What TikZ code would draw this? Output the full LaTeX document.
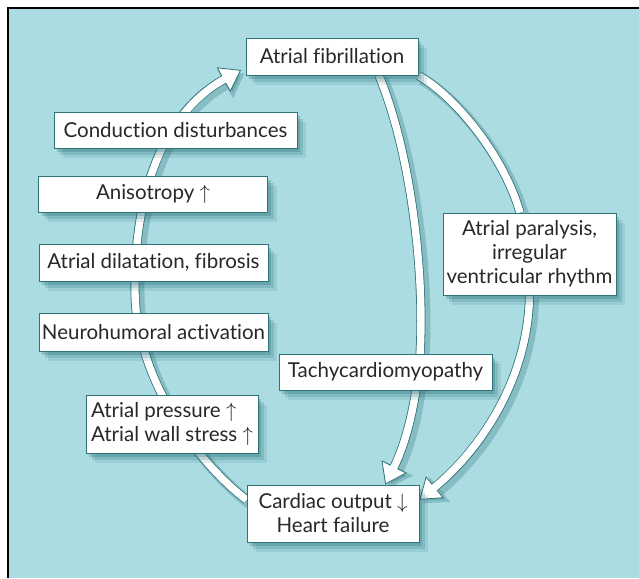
\documentclass[tikz,border=0pt]{standalone}
\usepackage{fontspec}
\setmainfont[Ligatures=NoCommon]{Lato}
\usetikzlibrary{arrows.meta,shadows,calc}
\definecolor{bgteal}{RGB}{170,220,225}
\definecolor{edgeteal}{RGB}{45,115,120}
\definecolor{shadeteal}{RGB}{30,100,110}
\definecolor{txt}{RGB}{40,40,40}
\pgfdeclarelayer{backlayer}
\pgfdeclarelayer{arrowlayer}
\pgfsetlayers{backlayer,arrowlayer,main}
\tikzset{
  box/.style={draw=edgeteal, line width=0.9pt, fill=white, text=txt, inner sep=2pt,
    font=\fontsize{20.5}{24}\selectfont,
    drop shadow={shadow xshift=9pt, shadow yshift=-10pt, opacity=0.12, fill=shadeteal},
    drop shadow={shadow xshift=6pt, shadow yshift=-7pt, opacity=0.18, fill=shadeteal},
    drop shadow={shadow xshift=3pt, shadow yshift=-4pt, opacity=0.25, fill=shadeteal}},
  arrshadow/.style={shadeteal, opacity=0.25, line width=12pt,
    transform canvas={xshift=3.5pt, yshift=-3.5pt}},
  arrouter/.style={edgeteal, line width=9pt},
  arrinner/.style={white, line width=7.4pt},
  headshadow/.style={-{Triangle[width=31pt,length=22pt]}},
  headouter/.style={-{Triangle[width=28pt,length=20pt,line width=0.8pt,fill=white]}},
}
\newcommand\fatarrow[1]{%
  \draw[arrshadow, headshadow] #1;
  \draw[arrouter, headouter] #1;
  \draw[arrinner, shorten >=18.5pt] #1;
}
\newcommand\fatline[1]{%
  \draw[arrshadow] #1;
  \draw[arrouter] #1;
  \draw[arrinner] #1;
}
\begin{document}
\begin{tikzpicture}[x=1pt, y=-1pt]
  \useasboundingbox (0,0) rectangle (639,578);
  \begin{pgfonlayer}{backlayer}
    \fill[white] (0,0) rectangle (639,578);
    \fill[bgteal] (8,8) rectangle (639,578);
    \draw[black, line width=2.5pt] (8,578) -- (8,8) -- (639,8);
  \end{pgfonlayer}

  % nodes
  \node[box, minimum width=172pt, minimum height=37pt] (af) at (332,56.5) {Atrial fibrillation};
  \node[box, minimum width=243pt, minimum height=36pt] (cd) at (175.5,130) {Conduction disturbances};
  \node[box, minimum width=229pt, minimum height=36pt] (an) at (153,194) {Anisotropy \ensuremath{\uparrow}};
  \node[box, minimum width=229pt, minimum height=37pt] (ad) at (153.5,262.5) {Atrial dilatation, fibrosis};
  \node[box, minimum width=229pt, minimum height=38pt] (nh) at (153.5,332) {Neurohumoral activation};
  \node[box, minimum width=172pt, minimum height=58pt, align=left] (ap) at (172,424)
     {Atrial pressure \ensuremath{\uparrow}\\Atrial wall stress \ensuremath{\uparrow}};
  \node[box, minimum width=213pt, minimum height=36pt] (tc) at (385.5,372) {Tachycardiomyopathy};
  \node[box, minimum width=172pt, minimum height=57pt, align=center] (co) at (333,513.5)
     {Cardiac output \ensuremath{\downarrow}\\Heart failure};
  \node[box, minimum width=173pt, minimum height=82pt, align=center] (par) at (529.5,254)
     {Atrial paralysis,\\irregular\\ventricular rhythm};

  \coordinate (m1) at (135,290);
  \coordinate (tipL) at (241,70);
  \coordinate (m2) at (420,354);

  \begin{pgfonlayer}{arrowlayer}
    \fatarrow{(co.171) .. controls (200,465) and (135,380) .. (m1)
              .. controls (134,190) and (165,112) .. (tipL)}
    \fatarrow{(af.-22) .. controls (410,150) and (425,270) .. (m2)
              .. controls (415,420) and (400,455) .. (co.29)}
    \fatline{(af.south east) .. controls (460,100) and (505,160) .. (par.103)}
    \fatarrow{(par.south) .. controls (528,380) and (480,450) .. (co.9)}
  \end{pgfonlayer}
\end{tikzpicture}
\end{document}
